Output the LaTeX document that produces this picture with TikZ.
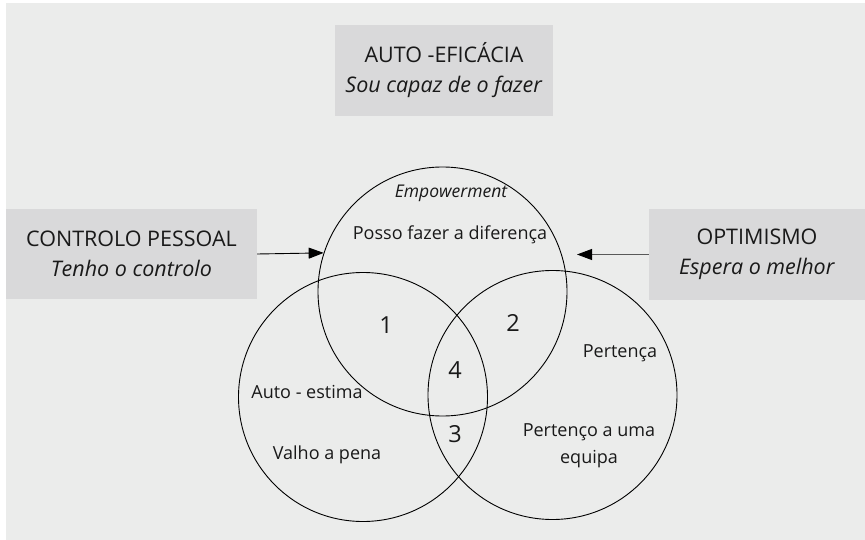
\documentclass[tikz,border=0pt]{standalone}
\usepackage{fontspec}
\setmainfont{Open Sans}
\usetikzlibrary{arrows.meta}
\definecolor{bgc}{RGB}{235,236,235}
\definecolor{boxc}{RGB}{217,217,218}
\definecolor{txt}{RGB}{25,25,25}
\tikzset{
  box/.style={rectangle, fill=boxc, inner sep=0pt, align=center, text=txt, font=\fontsize{21.5}{30}\selectfont},
  ring/.style={circle, draw=black, line width=0.9pt, minimum size=249pt, inner sep=0pt},
  lbl/.style={text=txt, font=\fontsize{18}{27}\selectfont, align=center, inner sep=0pt},
  num/.style={text=txt, font=\fontsize{23.5}{26}\selectfont, inner sep=0pt},
  arr/.style={line width=0.9pt, -{Triangle[length=15pt, width=11pt]}}
}
\begin{document}
\begin{tikzpicture}[x=1pt, y=-1pt]
\useasboundingbox (0,0) rectangle (865,540);
\fill[bgc] (6,3) rectangle (865,540);
% boxes
\node[box, minimum width=218pt, minimum height=91pt] (tb) at (444,70.5) {AUTO -EFICÁCIA\\\textit{Sou capaz de o fazer}};
\node[box, minimum width=251pt, minimum height=90pt] (lb) at (131.5,254) {CONTROLO PESSOAL\\\textit{Tenho o controlo}};
\node[box, minimum width=216pt, minimum height=91pt] (rb) at (757,254.5) {OPTIMISMO\\\textit{Espera o melhor}};
% circles
\node[ring] (tc) at (442.5,291.5) {};
\node[ring] (lc) at (363,397) {};
\node[ring] (rc) at (552.5,395) {};
% arrows
\coordinate (rend) at (577,254.5);
\draw[arr] (lb.east) -- (tc.162.5);
\draw[arr, draw=black!65, -{Triangle[length=15pt, width=11pt, color=black]}] (rb.west) -- (rend);
% labels
\node[lbl, font=\fontsize{17.5}{20}\selectfont\itshape] (emp) at (451,193) {Empowerment};
\node[lbl] (posso) at (450,235) {Posso fazer a diferença};
\node[lbl] (auto) at (307,392) {Auto - estima};
\node[lbl] (valho) at (327,455) {Valho a pena};
\node[lbl] (pert) at (620,353) {Pertença};
\node[lbl] (pteam) at (589,446) {Pertenço a uma\\equipa};
\node[num] (n1) at (386,325) {1};
\node[num] (n2) at (513,323) {2};
\node[num] (n4) at (455,370) {4};
\node[num] (n3) at (455,434) {3};
\end{tikzpicture}
\end{document}
